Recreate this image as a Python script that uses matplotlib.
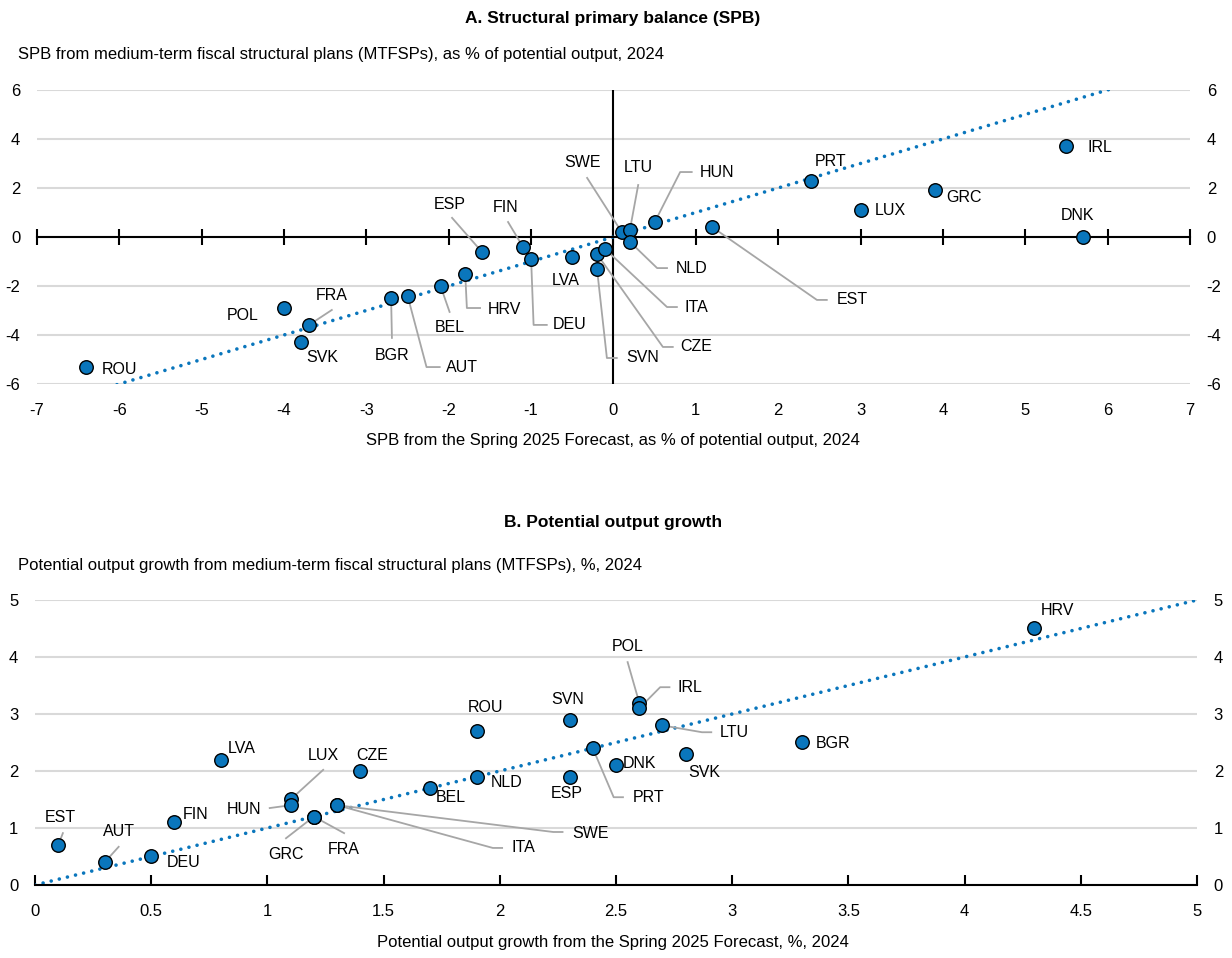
import matplotlib
matplotlib.use("Agg")
import matplotlib.pyplot as plt
import numpy as np

plt.rcParams['font.family'] = ['Liberation Sans', 'DejaVu Sans']
plt.rcParams['axes.unicode_minus'] = False

# ---------------- data ----------------
# Panel A: structural primary balance, % of potential output, 2024
countries_a = ['ROU', 'POL', 'FRA', 'SVK', 'BGR', 'AUT', 'BEL', 'HRV', 'ESP', 'FIN', 'DEU',
               'LVA', 'CZE', 'ITA', 'SVN', 'SWE', 'LTU', 'NLD', 'HUN', 'EST', 'PRT', 'LUX',
               'GRC', 'IRL', 'DNK']
spb_forecast = [-6.4, -4.0, -3.7, -3.8, -2.7, -2.5, -2.1, -1.8, -1.6, -1.1, -1.0,
                -0.5, -0.2, -0.1, -0.2, 0.1, 0.2, 0.2, 0.5, 1.2, 2.4, 3.0,
                3.9, 5.5, 5.7]
spb_plan = [-5.3, -2.9, -3.6, -4.3, -2.5, -2.4, -2.0, -1.5, -0.6, -0.4, -0.9,
            -0.8, -0.7, -0.5, -1.3, 0.2, 0.3, -0.2, 0.6, 0.4, 2.3, 1.1,
            1.9, 3.7, 0.0]

# Panel B: potential output growth, %, 2024
countries_b = ['EST', 'AUT', 'DEU', 'FIN', 'LVA', 'LUX', 'HUN', 'CZE', 'GRC', 'FRA', 'SWE',
               'ITA', 'BEL', 'NLD', 'ROU', 'ESP', 'SVN', 'PRT', 'DNK', 'POL', 'IRL', 'LTU',
               'SVK', 'BGR', 'HRV']
pot_forecast = [0.1, 0.3, 0.5, 0.6, 0.8, 1.1, 1.1, 1.4, 1.2, 1.2, 1.3,
                1.3, 1.7, 1.9, 1.9, 2.3, 2.3, 2.4, 2.5, 2.6, 2.6, 2.7,
                2.8, 3.3, 4.3]
pot_plan = [0.7, 0.4, 0.5, 1.1, 2.2, 1.5, 1.4, 2.0, 1.2, 1.2, 1.4,
            1.4, 1.7, 1.9, 2.7, 1.9, 2.9, 2.4, 2.1, 3.2, 3.1, 2.8,
            2.3, 2.5, 4.5]

xticks_a = list(range(-7, 8))
yticks_a = list(range(-6, 7, 2))
xticks_b = [0, 0.5, 1, 1.5, 2, 2.5, 3, 3.5, 4, 4.5, 5]
xticklabels_b = ['0', '0.5', '1', '1.5', '2', '2.5', '3', '3.5', '4', '4.5', '5']
yticks_b = [0, 1, 2, 3, 4, 5]

# ---------------- label layout (text position, alignment, leader vertices) ----------------
lab_a = {
    'ROU': ((-6.21, -5.39), 'left', []),
    'POL': ((-4.50, -3.22), 'center', []),
    'FRA': ((-3.42, -2.37), 'center', [(-3.42, -2.98)]),
    'SVK': ((-3.53, -4.94), 'center', []),
    'BGR': ((-2.69, -4.82), 'center', [(-2.69, -4.12)]),
    'AUT': ((-1.84, -5.31), 'center', [(-2.27, -5.31), (-2.11, -5.31)]),
    'BEL': ((-1.99, -3.71), 'center', [(-1.99, -3.06)]),
    'HRV': ((-1.32, -2.95), 'center', [(-1.78, -2.90), (-1.62, -2.90)]),
    'DEU': ((-0.53, -3.59), 'center', [(-0.97, -3.59), (-0.81, -3.59)]),
    'ESP': ((-1.99, 1.31), 'center', [(-1.96, 0.78)]),
    'FIN': ((-1.31, 1.22), 'center', [(-1.28, 0.61)]),
    'LVA': ((-0.58, -1.76), 'center', []),
    'SVN': ((0.35, -4.94), 'center', [(-0.08, -4.94), (0.04, -4.94)]),
    'CZE': ((1.01, -4.49), 'center', [(0.60, -4.49), (0.72, -4.49)]),
    'ITA': ((1.01, -2.88), 'center', [(0.65, -2.86), (0.77, -2.86)]),
    'NLD': ((0.95, -1.27), 'center', [(0.53, -1.27), (0.65, -1.27)]),
    'SWE': ((-0.37, 3.02), 'center', [(-0.32, 2.41)]),
    'LTU': ((0.30, 2.82), 'center', [(0.30, 2.12)]),
    'HUN': ((1.26, 2.65), 'center', [(0.81, 2.65), (0.95, 2.65)]),
    'EST': ((2.90, -2.57), 'center', [(2.47, -2.57), (2.59, -2.57)]),
    'PRT': ((2.63, 3.06), 'center', []),
    'LUX': ((3.36, 1.06), 'center', []),
    'GRC': ((4.26, 1.63), 'center', []),
    'IRL': ((5.91, 3.67), 'center', []),
    'DNK': ((5.63, 0.86), 'center', []),
}

lab_b = {
    'EST': ((0.11, 1.19), 'center', [(0.12, 0.91)]),
    'AUT': ((0.36, 0.93), 'center', [(0.36, 0.67)]),
    'DEU': ((0.64, 0.39), 'center', []),
    'FIN': ((0.69, 1.23), 'center', []),
    'LVA': ((0.89, 2.39), 'center', []),
    'LUX': ((1.24, 2.28), 'center', [(1.24, 2.02)]),
    'HUN': ((0.90, 1.33), 'center', [(1.01, 1.35)]),
    'CZE': ((1.45, 2.28), 'center', []),
    'GRC': ((1.08, 0.54), 'center', [(1.08, 0.82)]),
    'FRA': ((1.33, 0.63), 'center', [(1.33, 0.91)]),
    'SWE': ((2.39, 0.91), 'center', [(2.23, 0.93), (2.27, 0.93)]),
    'ITA': ((2.10, 0.65), 'center', [(1.97, 0.65), (2.01, 0.65)]),
    'BEL': ((1.79, 1.54), 'center', []),
    'NLD': ((2.03, 1.79), 'center', []),
    'ROU': ((1.94, 3.11), 'center', []),
    'ESP': ((2.29, 1.60), 'center', []),
    'SVN': ((2.29, 3.25), 'center', []),
    'PRT': ((2.64, 1.54), 'center', [(2.49, 1.54), (2.53, 1.54)]),
    'DNK': ((2.53, 2.14), 'left', []),
    'POL': ((2.55, 4.18), 'center', [(2.55, 3.91)]),
    'IRL': ((2.82, 3.47), 'center', [(2.69, 3.47), (2.73, 3.47)]),
    'LTU': ((3.01, 2.68), 'center', [(2.87, 2.68), (2.91, 2.68)]),
    'SVK': ((2.88, 1.98), 'center', []),
    'BGR': ((3.36, 2.49), 'left', []),
    'HRV': ((4.40, 4.82), 'center', []),
}

# ---------------- style ----------------
blue = '#0A76BC'
grid_c = '#D9D9D9'
lead_c = '#A6A6A6'
fs_tick = 12
fs_lab = 11.5
fs_sub = 12
fs_title = 12.5


def scatter_panel(ax, xs, ys, names, labels, lim):
    ax.plot(lim, lim, color=blue, lw=2.6, linestyle=(0, (0.01, 2.3)),
            dash_capstyle='round', zorder=2)
    for name, x, y in zip(names, xs, ys):
        (tx, ty), ha, verts = labels[name]
        if verts:
            px = [x] + [v[0] for v in verts]
            py = [y] + [v[1] for v in verts]
            ax.plot(px, py, color=lead_c, lw=1.3, zorder=4, clip_on=False)
        ax.text(tx, ty, name, ha=ha, va='center', fontsize=fs_lab, zorder=6)
    ax.scatter(xs, ys, s=95, color=blue, edgecolor='black', linewidth=1.0, zorder=5)


fig = plt.figure(figsize=(12.32, 9.58), dpi=100)

# ---------------- Panel A ----------------
ax1 = fig.add_axes([0.0300, 0.5992, 0.9359, 0.3069])
ax1.set_xlim(-7, 7)
ax1.set_ylim(-6, 6)
ax1.set_yticks(yticks_a)
ax1.yaxis.grid(True, color=grid_c, lw=1.5)
ax1.set_axisbelow(True)
for s in ['top', 'left', 'right']:
    ax1.spines[s].set_visible(False)
ax1.spines['bottom'].set_position(('data', 0))
ax1.spines['bottom'].set_linewidth(1.5)
ax1.set_xticks(xticks_a)
ax1.tick_params(axis='x', direction='inout', length=12, width=1.5, labelbottom=False)
ax1.tick_params(axis='y', length=0, labelleft=True, labelright=True, pad=12,
                labelsize=fs_tick)
ax1.axvline(0, color='black', lw=1.5, zorder=1)
sec1 = ax1.secondary_xaxis('bottom')
sec1.set_xticks(xticks_a)
sec1.tick_params(length=0, pad=14, labelsize=fs_tick)
sec1.spines['bottom'].set_visible(False)
scatter_panel(ax1, spb_forecast, spb_plan, countries_a, lab_a, [-7, 7])

fig.text(0.4976, 0.981, 'A. Structural primary balance (SPB)', ha='center', va='center',
         fontsize=fs_title, fontweight='bold')
fig.text(0.0146, 0.9426, 'SPB from medium-term fiscal structural plans (MTFSPs), as % of potential output, 2024',
         ha='left', va='center', fontsize=fs_sub)
fig.text(0.4976, 0.5407, 'SPB from the Spring 2025 Forecast, as % of potential output, 2024',
         ha='center', va='center', fontsize=fs_sub)

# ---------------- Panel B ----------------
ax2 = fig.add_axes([0.0284, 0.0762, 0.9432, 0.2975])
ax2.set_xlim(0, 5)
ax2.set_ylim(0, 5)
ax2.set_yticks(yticks_b)
ax2.yaxis.grid(True, color=grid_c, lw=1.5)
ax2.set_axisbelow(True)
for s in ['top', 'left', 'right']:
    ax2.spines[s].set_visible(False)
ax2.spines['bottom'].set_linewidth(1.5)
ax2.spines['bottom'].set_zorder(3)
ax2.set_xticks(xticks_b)
ax2.set_xticklabels(xticklabels_b)
ax2.tick_params(axis='x', direction='in', length=7, width=1.5, pad=14, labelsize=fs_tick)
ax2.tick_params(axis='y', length=0, labelleft=True, labelright=True, pad=12,
                labelsize=fs_tick)
scatter_panel(ax2, pot_forecast, pot_plan, countries_b, lab_b, [0, 5])

fig.text(0.4976, 0.4551, 'B. Potential output growth', ha='center', va='center',
         fontsize=fs_title, fontweight='bold')
fig.text(0.0146, 0.4102, 'Potential output growth from medium-term fiscal structural plans (MTFSPs), %, 2024',
         ha='left', va='center', fontsize=fs_sub)
fig.text(0.4976, 0.0167, 'Potential output growth from the Spring 2025 Forecast, %, 2024',
         ha='center', va='center', fontsize=fs_sub)

fig.savefig('out.png', dpi=100)
